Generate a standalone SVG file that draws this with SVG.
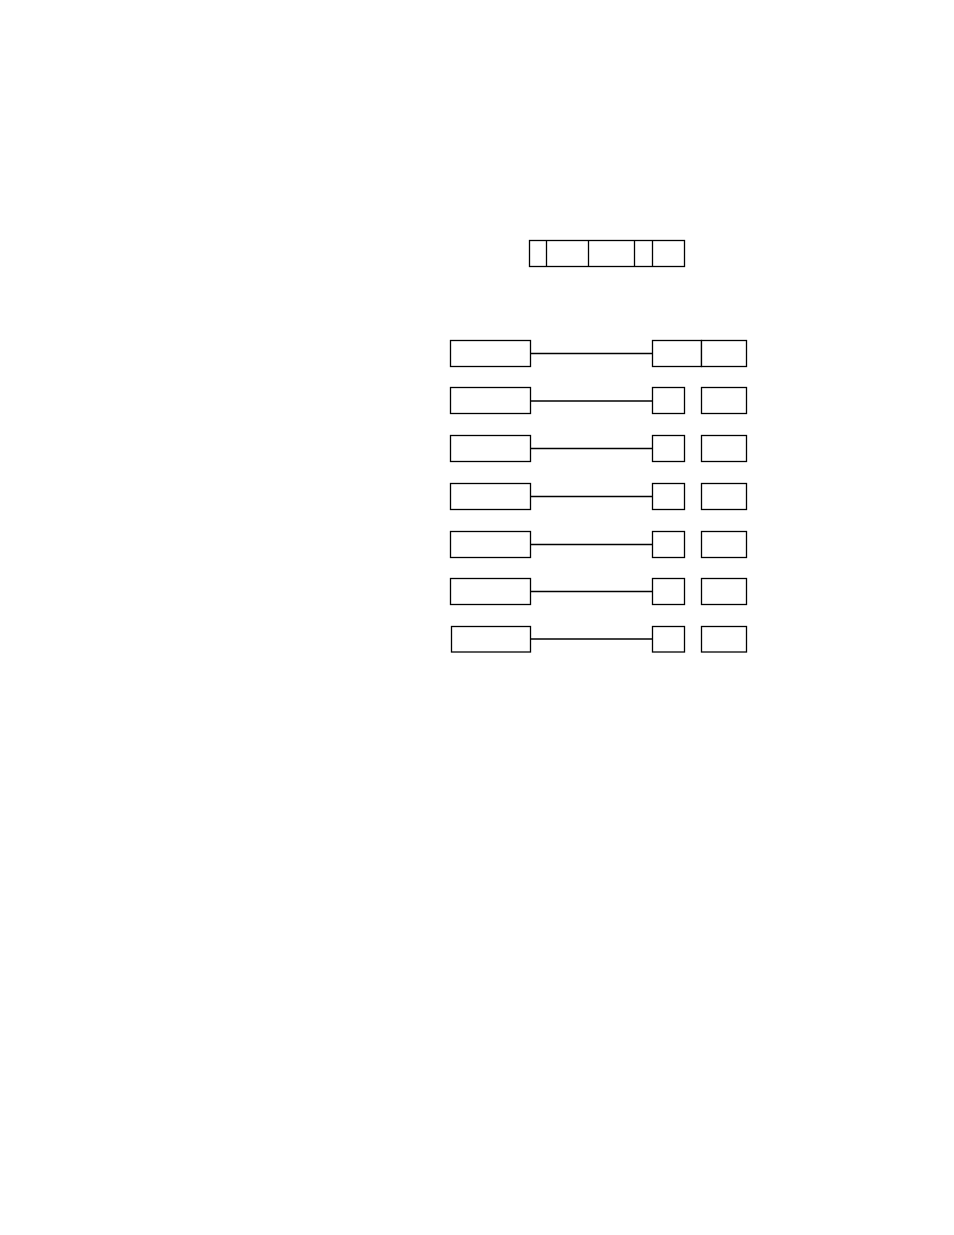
<svg xmlns="http://www.w3.org/2000/svg" width="954" height="1235" viewBox="0 0 954 1235">
<style>
rect{fill:#fff;stroke:#000;stroke-width:1.3}
line{stroke:#000;stroke-width:1.3}
</style>
<rect x="0" y="0" width="954" height="1235" style="stroke:none"/>
<g id="header">
<rect x="529.5" y="240.5" width="155" height="26"/>
<line x1="546.5" y1="240.5" x2="546.5" y2="266.5"/>
<line x1="588.5" y1="240.5" x2="588.5" y2="266.5"/>
<line x1="634.5" y1="240.5" x2="634.5" y2="266.5"/>
<line x1="652.5" y1="240.5" x2="652.5" y2="266.5"/>
</g>
<g id="connectors">
<line x1="530.5" y1="353.5" x2="652.5" y2="353.5"/>
<line x1="530.5" y1="401" x2="652.5" y2="401"/>
<line x1="530.5" y1="448.5" x2="652.5" y2="448.5"/>
<line x1="530.5" y1="496.5" x2="652.5" y2="496.5"/>
<line x1="530.5" y1="544.5" x2="652.5" y2="544.5"/>
<line x1="530.5" y1="591.5" x2="652.5" y2="591.5"/>
<line x1="530.5" y1="639" x2="652.5" y2="639"/>
</g>
<g id="row1"><rect x="450.5" y="340.5" width="80" height="26"/><rect x="652.5" y="340.5" width="49" height="26"/><rect x="701.5" y="340.5" width="45" height="26"/></g>
<g id="row2"><rect x="450.5" y="387.5" width="80" height="26"/><rect x="652.5" y="387.5" width="32" height="26"/><rect x="701.5" y="387.5" width="45" height="26"/></g>
<g id="row3"><rect x="450.5" y="435.5" width="80" height="26"/><rect x="652.5" y="435.5" width="32" height="26"/><rect x="701.5" y="435.5" width="45" height="26"/></g>
<g id="row4"><rect x="450.5" y="483.5" width="80" height="26"/><rect x="652.5" y="483.5" width="32" height="26"/><rect x="701.5" y="483.5" width="45" height="26"/></g>
<g id="row5"><rect x="450.5" y="531.5" width="80" height="26"/><rect x="652.5" y="531.5" width="32" height="26"/><rect x="701.5" y="531.5" width="45" height="26"/></g>
<g id="row6"><rect x="450.5" y="578.5" width="80" height="26"/><rect x="652.5" y="578.5" width="32" height="26"/><rect x="701.5" y="578.5" width="45" height="26"/></g>
<g id="row7"><rect x="451.5" y="626.5" width="79" height="25.5"/><rect x="652.5" y="626.5" width="32" height="25.5"/><rect x="701.5" y="626.5" width="45" height="25.5"/></g>
</svg>
